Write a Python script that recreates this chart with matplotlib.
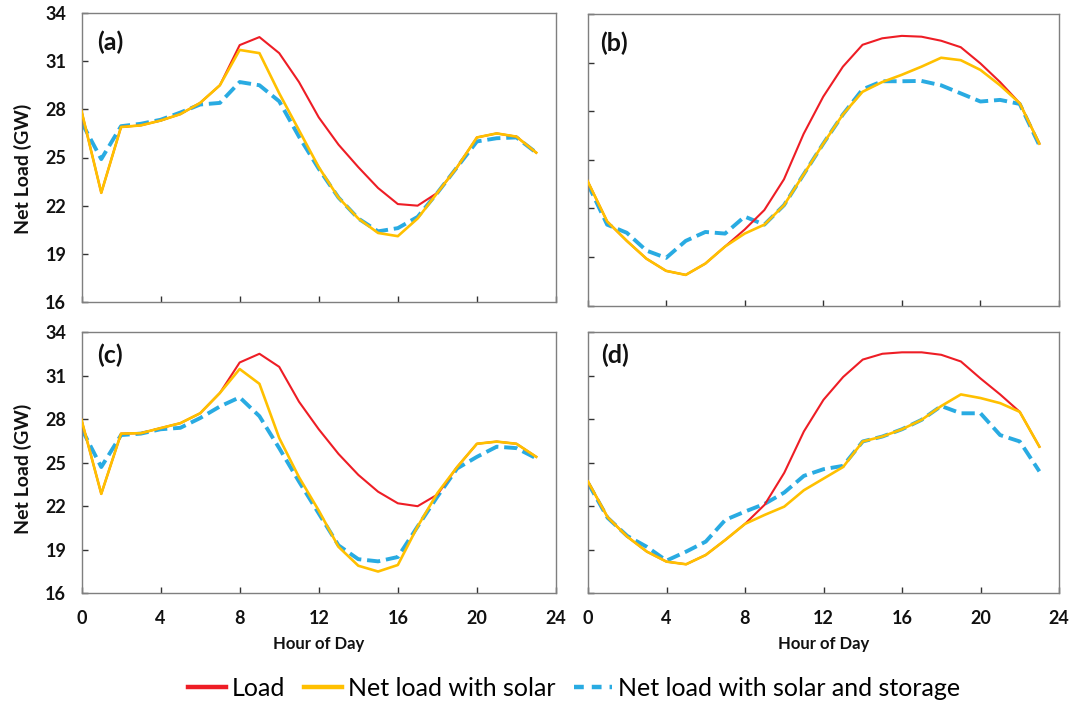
import matplotlib
matplotlib.use("Agg")
import matplotlib.pyplot as plt

plt.rcParams['font.family'] = ['Lato', 'DejaVu Sans']

hours = list(range(24))

load_a = [27.9, 22.8, 26.9, 27.0, 27.3, 27.7, 28.4, 29.5, 32.0, 32.5, 31.5, 29.7,
          27.5, 25.8, 24.4, 23.1, 22.1, 22.0, 22.8, 24.4, 26.25, 26.5, 26.3, 25.3]
solar_a = [27.9, 22.8, 26.9, 27.0, 27.3, 27.7, 28.4, 29.5, 31.7, 31.5, 29.0, 26.7,
           24.4, 22.5, 21.2, 20.3, 20.1, 21.2, 22.8, 24.4, 26.25, 26.5, 26.3, 25.3]
storage_a = [27.2, 24.9, 26.95, 27.1, 27.35, 27.8, 28.3, 28.4, 29.7, 29.5, 28.5, 26.3,
             24.3, 22.5, 21.2, 20.4, 20.6, 21.3, 22.8, 24.4, 26.0, 26.2, 26.25, 25.3]

load_b = [23.7, 21.2, 20.0, 18.9, 18.15, 17.9, 18.6, 19.65, 20.7, 21.9, 23.8, 26.6,
          28.9, 30.75, 32.1, 32.5, 32.65, 32.6, 32.35, 31.95, 30.95, 29.8, 28.5, 26.0]
solar_b = [23.7, 21.2, 20.0, 18.9, 18.15, 17.9, 18.6, 19.65, 20.45, 21.0, 22.2, 24.1,
           26.0, 27.8, 29.2, 29.8, 30.25, 30.75, 31.3, 31.15, 30.55, 29.6, 28.5, 26.0]
storage_b = [23.55, 21.0, 20.5, 19.4, 18.95, 20.0, 20.55, 20.45, 21.5, 21.0, 22.2, 24.1,
             26.0, 27.8, 29.35, 29.85, 29.85, 29.87, 29.6, 29.1, 28.6, 28.7, 28.45, 25.9]

load_c = [27.95, 22.85, 27.0, 27.03, 27.38, 27.72, 28.4, 29.8, 31.9, 32.5, 31.6, 29.2,
          27.3, 25.6, 24.16, 23.0, 22.2, 22.0, 22.8, 24.7, 26.3, 26.45, 26.3, 25.4]
solar_c = [27.95, 22.85, 27.0, 27.03, 27.38, 27.72, 28.4, 29.8, 31.45, 30.43, 26.7, 24.0,
           21.7, 19.2, 17.9, 17.5, 17.95, 20.6, 22.9, 24.7, 26.3, 26.45, 26.3, 25.4]
storage_c = [27.35, 24.7, 26.9, 27.0, 27.3, 27.4, 28.07, 28.87, 29.5, 28.2, 26.0, 23.7,
             21.5, 19.3, 18.35, 18.2, 18.5, 20.6, 22.66, 24.6, 25.4, 26.1, 26.0, 25.3]

load_d = [23.7, 21.24, 19.9, 18.87, 18.18, 18.0, 18.64, 19.68, 20.78, 22.1, 24.3, 27.15,
          29.33, 30.9, 32.1, 32.5, 32.6, 32.6, 32.43, 31.97, 30.8, 29.7, 28.5, 26.1]
solar_d = [23.7, 21.24, 19.9, 18.87, 18.18, 18.0, 18.64, 19.68, 20.78, 21.4, 21.97, 23.1,
           23.9, 24.7, 26.46, 26.8, 27.3, 27.95, 28.9, 29.7, 29.45, 29.1, 28.5, 26.1]
storage_d = [23.6, 21.2, 19.95, 19.2, 18.25, 18.87, 19.56, 21.06, 21.63, 22.16, 22.94, 24.09,
             24.55, 24.78, 26.46, 26.8, 27.3, 27.95, 28.9, 28.4, 28.4, 26.9, 26.46, 24.4]

panel_labels = ["(a)", "(b)", "(c)", "(d)"]
series_names = ["Load", "Net load with solar", "Net load with solar and storage"]
x_ticks = [0, 4, 8, 12, 16, 20, 24]
y_ticks = [16, 19, 22, 25, 28, 31, 34]

panels = [
    (load_a, solar_a, storage_a),
    (load_b, solar_b, storage_b),
    (load_c, solar_c, storage_c),
    (load_d, solar_d, storage_d),
]

RED = "#EE1D25"
GOLD = "#FFC000"
BLUE = "#29ABE2"
SPINE = "#7F7F7F"
TEXT = "#111111"

fig = plt.figure(figsize=(10.75, 7.03), dpi=100)

W, H = 1075.0, 703.0
boxes = [
    (81.5, 13.0, 556.0, 302.0),
    (587.5, 14.0, 1059.0, 305.7),
    (81.5, 332.0, 556.0, 593.3),
    (588.0, 332.0, 1059.0, 593.3),
]

for i, ((load, solar, storage), (x0, y0, x1, y1)) in enumerate(zip(panels, boxes)):
    ax = fig.add_axes([x0 / W, 1 - y1 / H, (x1 - x0) / W, (y1 - y0) / H])
    ax.plot(hours, storage, color=BLUE, lw=2.8, dashes=(3.4, 1.5),
            dash_capstyle='butt', zorder=2)
    ax.plot(hours, load, color=RED, lw=1.5, zorder=3)
    ax.plot(hours, solar, color=GOLD, lw=1.9, zorder=4)

    ax.set_xlim(0, 24)
    ax.set_ylim(16, 34)
    ax.set_xticks(x_ticks)
    ax.set_yticks(y_ticks)
    ax.tick_params(direction='in', length=4, width=1.0, color="#333333",
                   labelsize=13, labelcolor=TEXT)
    ax.tick_params(axis='x', pad=12)
    ax.tick_params(axis='y', pad=11)
    for lab in ax.get_xticklabels() + ax.get_yticklabels():
        lab.set_fontweight('bold')
    for sp in ax.spines.values():
        sp.set_color(SPINE)
        sp.set_linewidth(1.0)

    if i < 2:
        ax.tick_params(axis='x', labelbottom=False)
    else:
        ax.set_xlabel("Hour of Day", fontsize=12, fontweight='bold', color=TEXT)
        ax.xaxis.set_label_coords(0.5, -0.165)
    if i % 2 == 1:
        ax.tick_params(axis='y', labelleft=False)
    else:
        ax.set_ylabel("Net Load (GW)", fontsize=14, fontweight='bold', color=TEXT)
        ax.yaxis.set_label_coords(-0.105, 0.46 if i == 0 else 0.476)

    ax.text(0.027 if i % 2 else 0.033, 0.90 if i < 2 else 0.91, panel_labels[i],
            transform=ax.transAxes, ha='left', va='center',
            fontsize=18, fontweight='bold', color=TEXT)

# Legend keys drawn with heavier strokes than the plotted lines
keys = [
    plt.Line2D([], [], color=RED, lw=3.2),
    plt.Line2D([], [], color=GOLD, lw=3.2),
    plt.Line2D([], [], color=BLUE, lw=3.2, dashes=(2.2, 1.8), dash_capstyle='butt'),
]
fig.legend(keys, series_names, loc='center', bbox_to_anchor=(0.534, 1 - 688 / H),
           ncol=3, frameon=False, fontsize=18, handlelength=1.5, handletextpad=0.25,
           columnspacing=0.75)

fig.savefig("out.png", dpi=100)
